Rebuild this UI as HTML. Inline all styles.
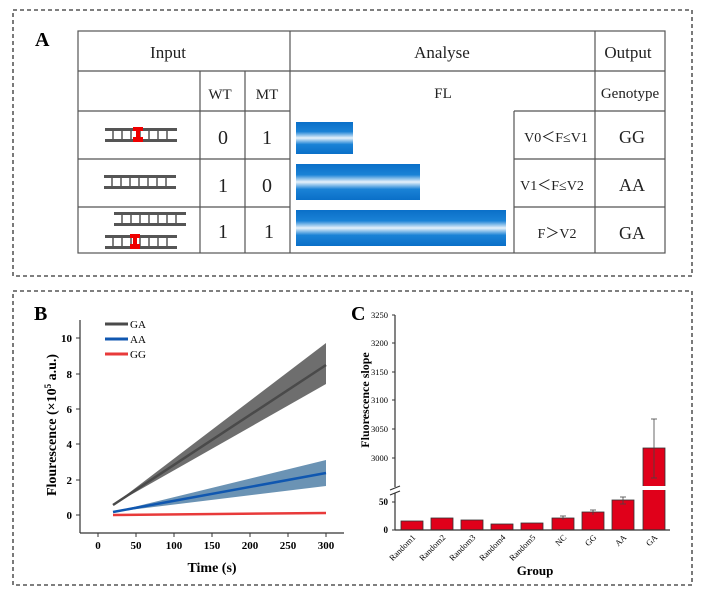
<!DOCTYPE html>
<html><head><style>
body{margin:0;background:#fff;}
svg{display:block;font-family:"Liberation Serif",serif;}
</style></head><body>
<svg width="703" height="593" viewBox="0 0 703 593" xmlns="http://www.w3.org/2000/svg">
<defs>
<linearGradient id="bl" x1="0" y1="0" x2="0" y2="1">
<stop offset="0" stop-color="#0a6fc8"/><stop offset="0.3" stop-color="#1a82d6"/>
<stop offset="0.5" stop-color="#e6f2fb"/><stop offset="0.7" stop-color="#1a82d6"/><stop offset="1" stop-color="#0a6fc8"/>
</linearGradient>
<g id="dna"><rect x="0" y="0" width="72" height="3" fill="#555"/><rect x="0" y="11" width="72" height="3" fill="#555"/>
<g stroke="#555" stroke-width="1.5"><line x1="8" y1="3" x2="8" y2="11"/><line x1="17" y1="3" x2="17" y2="11"/><line x1="26" y1="3" x2="26" y2="11"/><line x1="35" y1="3" x2="35" y2="11"/><line x1="44" y1="3" x2="44" y2="11"/><line x1="53" y1="3" x2="53" y2="11"/><line x1="62" y1="3" x2="62" y2="11"/></g></g>
</defs>
<!-- Panel A -->
<rect x="13" y="10" width="679" height="266" fill="none" stroke="#333" stroke-width="1.3" stroke-dasharray="4,3"/>
<text x="35" y="46" font-size="20" font-weight="bold">A</text>
<g stroke="#555" stroke-width="1.2" fill="none">
<rect x="78" y="31" width="587" height="222"/>
<line x1="78" y1="71" x2="665" y2="71"/>
<line x1="78" y1="111" x2="290" y2="111"/><line x1="514" y1="111" x2="665" y2="111"/>
<line x1="78" y1="159" x2="290" y2="159"/><line x1="514" y1="159" x2="665" y2="159"/>
<line x1="78" y1="207" x2="290" y2="207"/><line x1="514" y1="207" x2="665" y2="207"/>
<line x1="290" y1="31" x2="290" y2="253"/><line x1="595" y1="31" x2="595" y2="253"/>
<line x1="200" y1="71" x2="200" y2="253"/><line x1="245" y1="71" x2="245" y2="253"/>
<line x1="514" y1="111" x2="514" y2="253"/>
</g>
<g font-size="17" text-anchor="middle" fill="#222">
<text x="168" y="58">Input</text><text x="442" y="58">Analyse</text><text x="628" y="58">Output</text>
<text x="220" y="99" font-size="15">WT</text><text x="267" y="99" font-size="15">MT</text>
<text x="443" y="98" font-size="15">FL</text><text x="630" y="98" font-size="15">Genotype</text>
<text x="223" y="144" font-size="20">0</text><text x="267" y="144" font-size="20">1</text>
<text x="223" y="192" font-size="20">1</text><text x="267" y="192" font-size="20">0</text>
<text x="223" y="238" font-size="20">1</text><text x="269" y="238" font-size="20">1</text>
<text x="556" y="142" font-size="14">V0＜F≤V1</text><text x="552" y="190" font-size="14">V1＜F≤V2</text><text x="557" y="238" font-size="14">F＞V2</text>
<text x="632" y="143" font-size="18">GG</text><text x="632" y="191" font-size="18">AA</text><text x="632" y="239" font-size="18">GA</text>
</g>
<rect x="296" y="122" width="57" height="32" fill="url(#bl)"/>
<rect x="296" y="164" width="124" height="36" fill="url(#bl)"/>
<rect x="296" y="210" width="210" height="36" fill="url(#bl)"/>
<use href="#dna" x="105" y="128"/><rect x="133" y="127" width="10" height="4" fill="#e00"/><rect x="133" y="137" width="10" height="5" fill="#e00"/><rect x="136" y="127" width="4" height="15" fill="#e00"/>
<use href="#dna" x="104" y="175"/>
<use href="#dna" x="114" y="212"/>
<use href="#dna" x="105" y="235"/><rect x="130" y="234" width="10" height="4" fill="#e00"/><rect x="130" y="244" width="10" height="5" fill="#e00"/><rect x="133" y="234" width="4" height="15" fill="#e00"/>
<!-- Bottom box -->
<rect x="13" y="291" width="679" height="294" fill="none" stroke="#333" stroke-width="1.3" stroke-dasharray="4,3"/>
<text x="34" y="320" font-size="20" font-weight="bold">B</text>
<text x="351" y="320" font-size="20" font-weight="bold">C</text>
<!-- B chart -->
<polygon points="113,505 326,343 326,384" fill="#6e6e6e"/>
<polygon points="113,512 326,460 326,486" fill="#6b93b4"/>
<line x1="113" y1="505" x2="326" y2="365" stroke="#4a4a4a" stroke-width="2.5"/>
<line x1="113" y1="512" x2="326" y2="473" stroke="#1057b0" stroke-width="2.5"/>
<line x1="113" y1="515" x2="326" y2="513" stroke="#e83a3a" stroke-width="2.5"/>
<g stroke="#333" stroke-width="1.2">
<line x1="80" y1="320" x2="80" y2="533"/><line x1="80" y1="533" x2="344" y2="533"/>
</g>
<g stroke="#333" stroke-width="1">
<line x1="76" y1="515" x2="80" y2="515"/><line x1="76" y1="480" x2="80" y2="480"/><line x1="76" y1="444" x2="80" y2="444"/><line x1="76" y1="409" x2="80" y2="409"/><line x1="76" y1="374" x2="80" y2="374"/><line x1="76" y1="338" x2="80" y2="338"/>
<line x1="98" y1="533" x2="98" y2="537"/><line x1="136" y1="533" x2="136" y2="537"/><line x1="174" y1="533" x2="174" y2="537"/><line x1="212" y1="533" x2="212" y2="537"/><line x1="250" y1="533" x2="250" y2="537"/><line x1="288" y1="533" x2="288" y2="537"/><line x1="326" y1="533" x2="326" y2="537"/>
</g>
<g font-size="11" font-weight="bold" text-anchor="end">
<text x="72" y="519">0</text><text x="72" y="484">2</text><text x="72" y="448">4</text><text x="72" y="413">6</text><text x="72" y="378">8</text><text x="72" y="342">10</text>
</g>
<g font-size="11" font-weight="bold" text-anchor="middle">
<text x="98" y="549">0</text><text x="136" y="549">50</text><text x="174" y="549">100</text><text x="212" y="549">150</text><text x="250" y="549">200</text><text x="288" y="549">250</text><text x="326" y="549">300</text>
</g>
<text x="212" y="572" font-size="14" font-weight="bold" text-anchor="middle">Time (s)</text>
<text transform="translate(56,425) rotate(-90)" font-size="14" font-weight="bold" text-anchor="middle">Flourescence (×10<tspan font-size="9" dy="-5">5</tspan><tspan dy="5"> a.u.)</tspan></text>
<line x1="105" y1="324" x2="128" y2="324" stroke="#4a4a4a" stroke-width="3"/><text x="130" y="328" font-size="11">GA</text>
<line x1="105" y1="339" x2="128" y2="339" stroke="#1057b0" stroke-width="3"/><text x="130" y="343" font-size="11">AA</text>
<line x1="105" y1="354" x2="128" y2="354" stroke="#e83a3a" stroke-width="3"/><text x="130" y="358" font-size="11">GG</text>
<!-- C chart -->
<g fill="#e0001a" stroke="#333" stroke-width="0.8">
<rect x="401" y="521" width="22" height="9"/>
<rect x="431" y="518" width="22" height="12"/>
<rect x="461" y="520" width="22" height="10"/>
<rect x="491" y="524" width="22" height="6"/>
<rect x="521" y="523" width="22" height="7"/>
<rect x="552" y="518" width="22" height="12"/>
<rect x="582" y="512" width="22" height="18"/>
<rect x="612" y="500" width="22" height="30"/>
<rect x="643" y="448" width="22" height="82"/>
</g>
<rect x="642" y="486" width="24" height="4" fill="#fff"/>
<g stroke="#444" stroke-width="0.8">
<line x1="654" y1="419" x2="654" y2="478"/><line x1="651" y1="419" x2="657" y2="419"/><line x1="651" y1="478" x2="657" y2="478"/>
<line x1="623" y1="497" x2="623" y2="504"/><line x1="620" y1="497" x2="626" y2="497"/><line x1="620" y1="504" x2="626" y2="504"/>
<line x1="593" y1="510" x2="593" y2="515"/><line x1="590" y1="510" x2="596" y2="510"/>
<line x1="563" y1="516" x2="563" y2="520"/><line x1="560" y1="516" x2="566" y2="516"/>
</g>
<g stroke="#333" stroke-width="1.2">
<line x1="395" y1="315" x2="395" y2="487"/><line x1="395" y1="493" x2="395" y2="530"/><line x1="395" y1="530" x2="670" y2="530"/>
<line x1="390" y1="490" x2="400" y2="486"/><line x1="390" y1="495" x2="400" y2="491"/>
</g>
<g stroke="#333" stroke-width="1">
<line x1="392" y1="315" x2="395" y2="315"/><line x1="392" y1="343" x2="395" y2="343"/><line x1="392" y1="372" x2="395" y2="372"/><line x1="392" y1="400" x2="395" y2="400"/><line x1="392" y1="429" x2="395" y2="429"/><line x1="392" y1="458" x2="395" y2="458"/>
<line x1="392" y1="502" x2="395" y2="502"/><line x1="392" y1="530" x2="395" y2="530"/>
</g>
<g font-size="8.5" text-anchor="end">
<text x="388" y="318">3250</text><text x="388" y="346">3200</text><text x="388" y="375">3150</text><text x="388" y="403">3100</text><text x="388" y="432">3050</text><text x="388" y="461">3000</text>
<text x="388" y="505" font-weight="bold" font-size="9">50</text><text x="388" y="533" font-weight="bold" font-size="9">0</text>
</g>
<g font-size="8.5" text-anchor="end">
<text transform="translate(416,538) rotate(-45)">Random1</text>
<text transform="translate(446,538) rotate(-45)">Random2</text>
<text transform="translate(476,538) rotate(-45)">Random3</text>
<text transform="translate(506,538) rotate(-45)">Random4</text>
<text transform="translate(536,538) rotate(-45)">Random5</text>
<text transform="translate(567,538) rotate(-45)">NC</text>
<text transform="translate(597,538) rotate(-45)">GG</text>
<text transform="translate(627,538) rotate(-45)">AA</text>
<text transform="translate(658,538) rotate(-45)">GA</text>
</g>
<text x="535" y="575" font-size="13" font-weight="bold" text-anchor="middle">Group</text>
<text transform="translate(369,400) rotate(-90)" font-size="12" font-weight="bold" text-anchor="middle">Fluorescence slope</text>
</svg>
</body></html>
